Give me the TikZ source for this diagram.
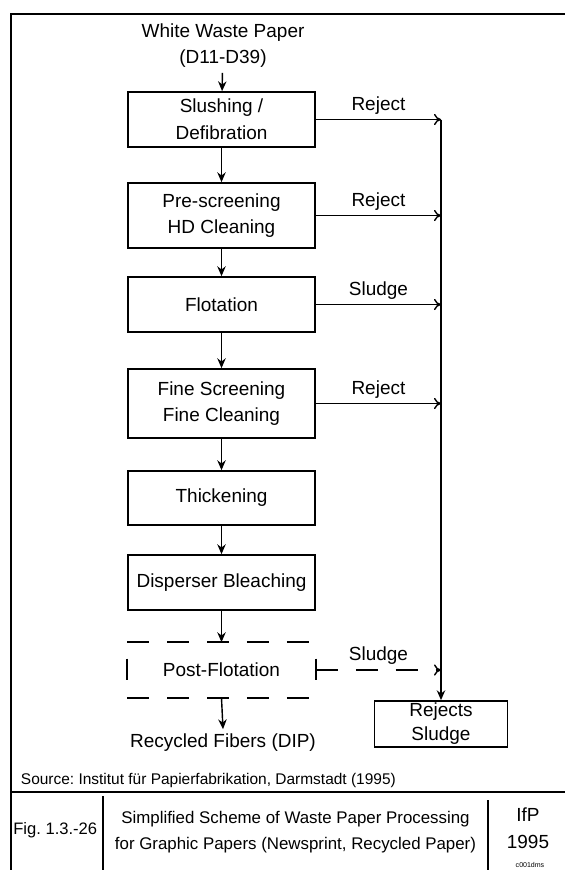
\documentclass[tikz,border=0pt]{standalone}
\usepackage{fontspec}
\setmainfont{Liberation Sans}
\usetikzlibrary{arrows.meta}
\frenchspacing

\begin{document}
\begin{tikzpicture}[x=0.025cm, y=-0.025cm,
    box/.style={draw, line width=1.2pt, minimum width=4.675cm, inner sep=0pt,
                align=center, font=\fontsize{13.5}{19}\selectfont},
    txt/.style={align=center, font=\fontsize{13.5}{18.5}\selectfont},
    down/.style={line width=1pt, -{Stealth[length=7pt, width=6pt]}},
    side/.style={line width=1pt, -{To[length=5pt, width=8pt, line width=1pt]}},
    frame/.style={line width=1.5pt},
    dashline/.style={line width=1.5pt, dash pattern=on 15.6pt off 12.8pt},
    dashside/.style={line width=1.2pt, dash pattern=on 0pt off 11.7pt on 15pt off 20pt}]
\useasboundingbox (0,0) rectangle (565,870);

% Frame and caption rows
\draw[frame] (565,14) -- (11,14) -- (11,870);
\draw[frame] (11,792) -- (565,792);
\draw[frame] (103,796) -- (103,870);
\draw[frame] (488,800) -- (488,870);

% Process steps
\node[txt] (src) at (223,46) {White Waste Paper\\(D11-D39)};
\node[box, minimum height=1.375cm] (b1) at (221.5,119.5) {Slushing /\\Defibration};
\node[box, minimum height=1.625cm] (b2) at (221.5,215.5) {Pre-screening\\HD Cleaning};
\node[box, minimum height=1.375cm] (b3) at (221.5,304.5) {Flotation};
\node[box, minimum height=1.725cm] (b4) at (221.5,403.5) {Fine Screening\\Fine Cleaning};
\node[box, minimum height=1.35cm] (b5) at (221.5,498) {Thickening};
\node[box, minimum height=1.375cm] (b6) at (221.5,582.5) {Disperser Bleaching};
\node[box, draw=none, minimum height=1.35cm] (b7) at (221.5,670) {Post-Flotation};
\node[txt] (fib) at (223,743) {Recycled Fibers (DIP)};
\node[box, minimum width=3.325cm, minimum height=1.15cm,
      font=\fontsize{13.5}{17}\selectfont] (rej) at (441,724) {Rejects\\Sludge};

% Dashed outline of the post-flotation stage
\draw[dashline] (b7.north west) -- (b7.north east);
\draw[dashline] (b7.south west) -- (b7.south east);
\draw[dashside] (b7.north west) -- (b7.south west);
\draw[dashside] (b7.north east) -- (b7.south east);

% Main line
\draw[down] (src) -- (b1);
\foreach \a/\b in {b1/b2, b2/b3, b3/b4, b4/b5, b5/b6, b6/b7}
    \draw[down] (\a.south) -- (\b.north);
\draw[down] (b7.south) -- (fib.north);

% Rejects and sludge collector
\foreach \b/\out in {b1/Reject, b2/Reject, b3/Sludge, b4/Reject}
    \draw[side] (\b.east) -- (\b.east -| rej)
        node[midway, above, txt] {\out};
\draw[side, dash pattern=on 15.6pt off 12.8pt] (b7.east) -- (b7.east -| rej)
    node[midway, above, txt] {Sludge};
\draw[down] (b1.east -| rej) -- (rej.north);

% Source and caption
\node[anchor=west, font=\fontsize{11}{13}\selectfont] (srcnote) at (16,780)
    {Source: Institut für Papierfabrikation, Darmstadt (1995)};
\node[anchor=west, font=\fontsize{11.8}{14}\selectfont, inner sep=0pt] (fig) at (13,830) {Fig. 1.3.-26};
\node[align=center, font=\fontsize{12}{18.5}\selectfont] (title) at (295.5,832)
    {Simplified Scheme of Waste Paper Processing\\for Graphic Papers (Newsprint, Recycled Paper)};
\node[font=\fontsize{13.5}{16}\selectfont] (ifp) at (528,815) {IfP};
\node[font=\fontsize{13.5}{16}\selectfont] (year) at (528,842) {1995};
\node[font=\fontsize{5}{6}\selectfont] (code) at (530,865) {c001dms};
\end{tikzpicture}
\end{document}
